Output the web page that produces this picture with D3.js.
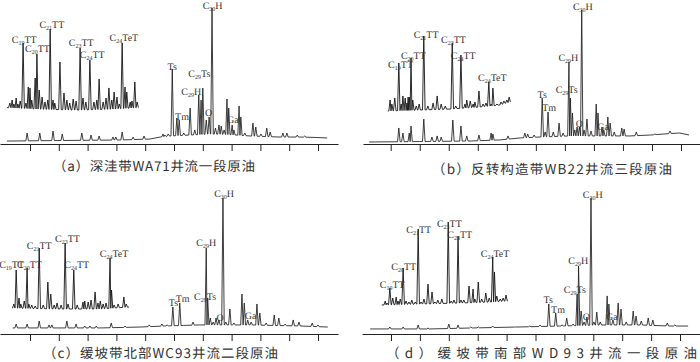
<!DOCTYPE html>
<html><head><meta charset="utf-8">
<script src="https://cdn.jsdelivr.net/npm/d3@7"></script>
<style>
html,body{margin:0;padding:0;background:#fff;}
svg{display:block;}
text{text-rendering:geometricPrecision;}
</style></head>
<body><svg id="chart" width="700" height="362"></svg>
<script>
// ---------------- DATA (retention time in min, relative intensity 0-100) ----------------
const tickTimes = [10, 15, 20, 25, 30, 35, 40, 45, 50, 55, 60];
const captions = ["（a）深洼带WA71井流一段原油", "（b）反转构造带WB22井流三段原油",
                  "（c）缓坡带北部WC93井流二段原油", "（d）缓坡带南部WD93井流一段原油"];

// ---- (a) WA71 ----
const aMainBase = [[6.0,0.7],[15.2,1.1],[25.6,1.5],[30.8,2.2],[32.6,3.7],[34.3,4.5],[37.8,5.2],[41.3,6.0],[44.7,5.5],[48.2,4.5],[53.4,3.7],[56.9,3.7],[59.5,3.4],[61.6,3.0]];
const aMainPeaks = [[9.5,6.7],[11.7,6.7],[14.0,8.2],[15.6,6.0],[19.0,6.7],[20.6,5.2],[22.0,4.5],[24.4,3.7],[24.9,3.7],[26.0,7.5],[27.9,3.7],[29.8,4.5],
  [33.1,6.0],[33.4,5.2],[34.0,6.0],[34.7,54.5],[35.5,17.9],[35.9,16.4],[36.7,6.7],[37.8,25.4],[38.6,9.0],[39.3,35.1],[39.7,31.3],[40.0,40.3],
  [40.6,16.4],[41.1,18.7],[41.6,100],[42.2,10.4],[42.8,12.7],[43.2,11.9],[43.7,9.0],[44.2,32.1],[44.5,25.4],[45.1,12.7],[45.4,9.0],[46.3,26.9],
  [46.6,18.7],[47.3,6.7],[48.7,14.2],[49.2,11.2],[50.1,6.0],[51.1,10.4],[51.7,7.5],[53.9,6.7],[54.6,6.7],[56.4,5.2],[57.7,4.5]];
const aInsetBase = [[6.0,3],[12,1],[18,0],[24,1],[28.8,3]];
const aInsetPeaks = [[6.5,8.6],[6.9,12.3],[7.2,7.4],[7.6,14.8],[7.9,7.4],[8.3,11.1],[8.8,82.7],[9.3,8.6],[9.7,28.4],[10.0,27.2],[10.3,12.3],
  [10.9,39.5],[11.2,69.1],[11.6,24.7],[12.1,16.0],[12.6,9.9],[13.1,12.3],[13.5,100],[14.0,12.3],[14.3,8.6],[15.2,59.3],[15.9,21.0],[16.4,12.3],
  [16.9,8.6],[17.5,13.6],[18.0,11.1],[18.7,76.5],[19.2,14.8],[19.7,9.9],[20.4,61.7],[21.1,9.9],[21.6,12.3],[22.0,38.3],[22.7,9.9],[23.2,14.8],
  [23.7,27.2],[24.2,12.3],[24.6,22.2],[25.1,16.0],[25.5,7.4],[26.0,82.7],[26.5,28.4],[26.8,22.2],[27.4,9.9],[27.7,11.1],[28.2,34.6],[28.6,9.9]];
const aMainLabels = [["Ts","","",34.7,54.0],["Tm","","",36.4,16.4],["C","29","H",38.0,35.1],["C","29","Ts",39.4,48.5],["O","","",41.0,19.4],["C","30","H",41.7,99.5],["Ga","","",45.2,14.2]];
const aInsetLabels = [["C","19","TT",9.0,82.7],["C","20","TT",11.3,71.6],["C","21","TT",13.8,101.2],["C","23","TT",18.9,79.0],["C","24","TT",20.8,64.2],["C","24","TeT",26.3,85.2]];

// ---- (b) WB22 ----
const bMainBase = [[6.3,0.75],[15.0,1.1],[23.7,1.5],[28.8,2.3],[32.3,3.8],[35.7,4.5],[40.9,5.3],[46.0,5.3],[51.2,5.3],[54.7,6.0],[58.1,7.1],[59.8,7.5],[61.4,6.0]];
const bMainPeaks = [[11.4,11.3],[12.1,7.5],[13.2,7.5],[13.5,12.8],[15.7,18.0],[17.1,4.5],[18.0,5.3],[18.7,4.5],[20.7,17.3],[22.1,12.8],[23.1,5.3],
  [25.2,6.0],[27.3,7.5],[27.6,6.8],[30.2,5.3],[33.1,7.5],[33.6,6.8],[34.7,6.0],[36.1,33.8],[36.6,8.3],[37.1,23.3],[38.0,8.3],[39.0,15.0],[39.7,7.5],
  [40.7,60.9],[40.95,33.8],[41.3,22.6],[41.7,9.8],[42.1,12.0],[42.5,12.0],[42.9,100],[43.3,9.8],[43.8,18.0],[44.5,9.0],[45.4,29.3],[45.7,22.6],
  [46.4,12.0],[46.7,9.8],[47.4,19.5],[47.8,15.0],[48.5,8.3],[49.8,11.3],[50.2,10.5],[52.3,8.3],[55.5,6.8],[58.1,9.0]];
const bInsetBase = [[9.5,1.3],[15.0,2.6],[20.2,3.9],[25.4,6.6],[28.8,9.2],[30.5,13.2]];
const bInsetPeaks = [[9.9,15.8],[10.2,10.5],[10.7,18.4],[11.4,64.5],[11.8,10.5],[12.1,21.1],[12.5,18.4],[12.8,11.8],[13.0,19.7],[13.2,19.7],
  [13.5,71.1],[13.8,15.8],[14.4,7.9],[14.9,10.5],[15.7,100],[16.4,7.9],[17.3,11.8],[18.0,21.1],[18.7,10.5],[19.4,7.9],[20.6,90.8],[21.2,7.9],
  [22.1,75.0],[22.8,10.5],[23.1,15.8],[23.7,14.5],[24.2,10.5],[24.5,13.2],[25.2,27.6],[25.9,10.5],[26.4,11.8],[26.9,39.5],[27.3,10.5],[27.6,31.6],
  [28.3,10.5],[29.0,13.2],[29.5,14.5],[30.0,15.8],[30.4,19.7]];
const bMainLabels = [["Ts","","",36.1,33.8],["Tm","","",37.3,24.1],["C","29","H",40.6,61.7],["C","29","Ts",40.3,37.6],["O","","",42.5,12.0],["C","30","H",43.1,100.0],["Ga","","",46.6,9.8]];
const bInsetLabels = [["C","19","TT",11.7,57.9],["C","20","TT",13.9,69.7],["C","21","TT",16.1,97.4],["C","23","TT",20.8,90.8],["C","24","TT",22.5,69.7],["C","24","TeT",27.5,40.8]];

// ---- (c) WC93 ----
const cMainBase = [[7.0,0.8],[22.2,0.8],[29.1,1.5],[33.4,2.3],[39.5,3.1],[48.2,3.1],[56.9,2.3],[61.7,1.5]];
const cMainPeaks = [[7.6,3.8],[9.5,3.8],[11.6,6.1],[13.3,3.1],[13.8,3.1],[16.4,6.1],[18.0,3.8],[19.5,2.3],[20.4,2.3],[21.5,2.3],[24.1,4.6],[26.5,2.3],
  [30.7,3.1],[32.9,3.8],[33.8,3.1],[34.8,16.8],[36.0,19.8],[36.9,2.3],[38.3,5.3],[39.5,3.1],[40.6,61.8],[40.85,23.7],[41.3,8.4],[41.8,5.3],
  [42.3,8.4],[42.8,6.9],[43.5,100],[44.0,5.3],[44.7,15.3],[45.4,4.6],[46.8,26.7],[47.2,19.8],[47.8,6.9],[48.4,5.3],[49.4,19.1],[49.9,12.2],
  [51.0,4.6],[52.4,10.7],[53.2,8.4],[54.3,3.8],[55.7,6.9],[56.7,5.3],[59.0,4.6],[60.0,3.1]];
const cInsetBase = [[6.9,1.5],[15.2,0],[22.2,0],[27.2,3.0]];
const cInsetPeaks = [[7.2,7.6],[7.6,59.1],[8.1,16.7],[8.4,7.6],[9.0,12.1],[9.5,62.1],[9.8,7.6],[10.3,6.1],[10.9,4.5],[11.6,92.4],[12.3,6.1],
  [13.1,40.9],[13.6,22.7],[14.2,6.1],[14.7,9.1],[15.4,6.1],[16.1,100],[16.6,7.6],[17.6,59.1],[18.2,6.1],[19.2,10.6],[19.5,12.1],[20.1,10.6],
  [20.6,13.6],[21.3,25.8],[21.8,9.1],[22.2,12.1],[22.7,7.6],[23.2,9.1],[23.9,77.3],[24.15,28.8],[24.6,6.1],[25.3,7.6],[26.3,18.2],[26.7,7.6]];
const cMainLabels = [["Ts","","",34.9,17.6],["Tm","","",36.5,20.6],["C","29","H",40.6,63.4],["C","29","Ts",40.4,22.1],["O","","",43.0,6.1],["C","30","H",43.7,100.8],["Ga","","",48.3,7.6]];
const cInsetLabels = [["C","19","TT",6.8,62.1],["C","20","TT",9.9,62.1],["C","21","TT",11.6,90.9],["C","23","TT",16.5,101.5],["C","24","TT",18.1,62.1],["C","24","TeT",24.6,78.8]];

// ---- (d) WD93 ----
const dMainBase = [[6.4,0.8],[16.7,0.8],[23.7,1.5],[32.3,2.3],[39.2,3.0],[46.2,3.8],[53.1,3.8],[58.3,3.0],[61.4,3.0]];
const dMainPeaks = [[9.8,2.3],[12.1,2.3],[14.7,3.8],[16.4,1.5],[20.0,4.5],[21.6,3.8],[23.8,2.3],[25.1,2.3],[27.6,3.0],[31.6,2.3],[34.0,3.0],
  [35.8,3.8],[37.3,19.7],[38.5,12.9],[39.6,3.8],[40.4,9.1],[41.5,4.5],[42.2,27.3],[42.45,48.5],[42.9,14.4],[43.4,6.1],[43.9,9.8],[44.6,100],
  [45.1,6.1],[45.6,13.6],[46.2,6.1],[47.4,25.8],[47.7,19.7],[48.4,7.6],[49.3,20.5],[49.8,15.9],[50.7,6.1],[51.9,14.4],[52.4,10.6],[53.3,6.8],
  [54.5,9.1],[55.3,7.6],[57.8,5.3],[59.1,3.8]];
const dInsetBase = [[8.4,0],[15.0,1.2],[21.9,2.4],[27.1,3.6],[30.2,4.8]];
const dInsetPeaks = [[9.0,4.8],[9.3,2.4],[9.8,20.5],[10.3,8.4],[10.9,9.6],[11.2,4.8],[11.6,7.2],[12.1,44.6],[12.6,4.8],[13.1,3.6],[13.6,6.0],
  [14.2,3.6],[14.7,91.6],[15.2,3.6],[15.7,7.2],[16.4,25.3],[17.1,15.7],[17.6,3.6],[18.1,6.0],[18.8,7.2],[19.9,100],[20.4,4.8],[20.9,6.0],
  [21.6,83.1],[22.1,6.0],[22.6,6.0],[23.5,22.9],[24.2,19.3],[24.5,7.2],[25.1,27.7],[25.7,7.2],[26.4,14.5],[27.0,8.4],[27.6,57.8],[27.9,39.8],
  [28.3,10.8],[28.9,7.2],[29.4,8.4],[29.9,12.0]];
const dMainLabels = [["Ts","","",37.2,20.5],["Tm","","",38.9,12.9],["C","29","H",42.4,50.0],["C","29","Ts",41.8,28.0],["O","","",43.8,7.6],["C","30","H",44.9,100],["Ga","","",48.2,7.6]];
const dInsetLabels = [["C","19","TT",10.2,20.5],["C","20","TT",12.2,42.2],["C","21","TT",14.8,86.7],["C","23","TT",20.1,94.0],["C","24","TT",21.9,80.7],["C","24","TeT",28.0,57.8]];

// ---------------- LAYOUT ----------------
const layout = [
  {tick:[30,318],   axis:[0,338],   axisY:144, main:[142,8],   inset:[110,29],  cap:[53,255,170.5],
   data:{mb:aMainBase, mp:aMainPeaks, ib:aInsetBase, ip:aInsetPeaks, ml:aMainLabels, il:aInsetLabels}},
  {tick:[390.7,681],axis:[363,700], axisY:144, main:[143,10],  inset:[112,36],  cap:[432,672,173.5],
   data:{mb:bMainBase, mp:bMainPeaks, ib:bInsetBase, ip:bInsetPeaks, ml:bMainLabels, il:bInsetLabels}},
  {tick:[30,318],   axis:[0,338],   axisY:334, main:[329,198], inset:[309,243], cap:[43,278,357.5],
   data:{mb:cMainBase, mp:cMainPeaks, ib:cInsetBase, ip:cInsetPeaks, ml:cMainLabels, il:cInsetLabels}},
  {tick:[391,680],  axis:[362,700], axisY:334, main:[330,198], inset:[305,222], cap:[386,697,358],
   data:{mb:dMainBase, mp:dMainPeaks, ib:dInsetBase, ip:dInsetPeaks, ml:dMainLabels, il:dInsetLabels}}
];

const svg = d3.select("#chart");
const PEAK_W = 0.22;

function buildTrace(base, peaks) {
  const bt = base.map(d => d[0]), bv = base.map(d => d[1]);
  const baseAt = d3.scaleLinear().domain(bt).range(bv).clamp(true);
  const ps = peaks.slice().sort((a, b) => a[0] - b[0]);
  const pts = [];
  const intervals = [];
  ps.forEach((p, i) => {
    let l = p[0] - PEAK_W, r = p[0] + PEAK_W;
    if (i > 0) l = Math.max(l, (ps[i - 1][0] + p[0]) / 2);
    if (i < ps.length - 1) r = Math.min(r, (ps[i + 1][0] + p[0]) / 2);
    intervals.push([l, r]);
    pts.push([l, baseAt(l)], [p[0], Math.max(p[1], baseAt(p[0]))], [r, baseAt(r)]);
  });
  base.forEach(b => {
    if (!intervals.some(iv => b[0] > iv[0] && b[0] < iv[1])) pts.push([b[0], b[1]]);
  });
  pts.sort((a, b) => a[0] - b[0]);
  return pts;
}

function drawLabels(g, labels, x, y) {
  labels.forEach(l => {
    const t = g.append("text")
      .attr("x", x(l[3])).attr("y", y(l[4]))
      .attr("text-anchor", "middle")
      .attr("font-family", "'Liberation Serif', 'DejaVu Serif', serif")
      .attr("font-size", 10).attr("fill", "#333");
    t.append("tspan").attr("fill", "#333").text(l[0]);
    if (l[1]) {
      t.append("tspan").attr("fill", "#333").attr("font-size", 6).attr("dy", 2).text(l[1]);
      t.append("tspan").attr("fill", "#333").attr("dy", -2).text(l[2]);
    }
  });
}

layout.forEach((L, i) => {
  const g = svg.append("g");
  const x = d3.scaleLinear().domain([10, 60]).range(L.tick);
  const xAxisScale = d3.scaleLinear().domain([x.invert(L.axis[0]), x.invert(L.axis[1])]).range(L.axis);
  const yMain = d3.scaleLinear().domain([0, 100]).range(L.main);
  const yIn = d3.scaleLinear().domain([0, 100]).range(L.inset);

  const ax = g.append("g").attr("transform", `translate(0,${L.axisY})`)
    .call(d3.axisBottom(xAxisScale).tickValues(tickTimes).tickSize(7).tickSizeOuter(0).tickFormat(""));
  ax.selectAll("path,line").attr("stroke", "#222").attr("stroke-width", 1);

  const line = (yy) => d3.line().x(d => x(d[0])).y(d => yy(d[1]));

  g.append("path").datum(buildTrace(L.data.mb, L.data.mp))
    .attr("d", line(yMain)).attr("fill", "none").attr("stroke", "#1e1e1e").attr("stroke-width", 0.85);
  g.append("path").datum(buildTrace(L.data.ib, L.data.ip))
    .attr("d", line(yIn)).attr("fill", "none").attr("stroke", "#141414").attr("stroke-width", 0.9);

  drawLabels(g, L.data.ml, x, yMain);
  drawLabels(g, L.data.il, x, yIn);

  g.append("text")
    .attr("x", L.cap[0]).attr("y", L.cap[2])
    .attr("textLength", L.cap[1] - L.cap[0]).attr("lengthAdjust", "spacing")
    .attr("font-family", "'Noto Sans CJK SC', 'Noto Sans', sans-serif")
    .attr("font-size", 13.5).attr("fill", "#333")
    .text(captions[i]);
});
</script>
</body></html>
